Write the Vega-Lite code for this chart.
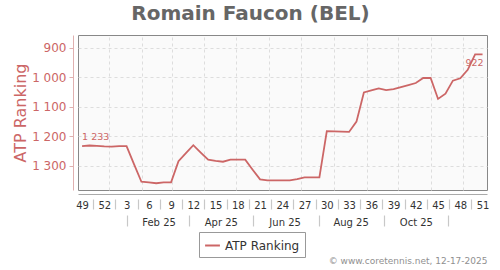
{
  "$schema": "https://vega.github.io/schema/vega-lite/v6.json",
  "width": 409,
  "height": 155,
  "autosize": {"type": "none"},
  "padding": {"left": 78, "top": 35, "right": 13, "bottom": 80},
  "background": "white",
  "config": {
    "font": "DejaVu Sans",
    "view": {"fill": "#fafafa", "stroke": "#888", "strokeWidth": 1},
    "locale": {"number": {"decimal": ".", "thousands": " ", "grouping": [3], "currency": ["", ""]}}
  },
  "title": {"text": "Romain Faucon (BEL)", "fontSize": 20, "fontWeight": "bold", "color": "#666", "anchor": "middle", "baseline": "alphabetic", "offset": 14, "dy": 19, "dx": -32},
  "data": {"values": [
    {"i": 0, "rank": 1233}, {"i": 1, "rank": 1231}, {"i": 2, "rank": 1232}, {"i": 3, "rank": 1234},
    {"i": 4, "rank": 1235}, {"i": 5, "rank": 1233}, {"i": 6, "rank": 1233}, {"i": 7, "rank": 1294},
    {"i": 8, "rank": 1354}, {"i": 9, "rank": 1356}, {"i": 10, "rank": 1359}, {"i": 11, "rank": 1356},
    {"i": 12, "rank": 1356}, {"i": 13, "rank": 1284}, {"i": 14, "rank": 1257}, {"i": 15, "rank": 1230},
    {"i": 16, "rank": 1255}, {"i": 17, "rank": 1279}, {"i": 18, "rank": 1283}, {"i": 19, "rank": 1286},
    {"i": 20, "rank": 1279}, {"i": 21, "rank": 1279}, {"i": 22, "rank": 1279}, {"i": 23, "rank": 1313},
    {"i": 24, "rank": 1346}, {"i": 25, "rank": 1349}, {"i": 26, "rank": 1349}, {"i": 27, "rank": 1349},
    {"i": 28, "rank": 1349}, {"i": 29, "rank": 1345}, {"i": 30, "rank": 1339}, {"i": 31, "rank": 1339},
    {"i": 32, "rank": 1339}, {"i": 33, "rank": 1182}, {"i": 34, "rank": 1183}, {"i": 35, "rank": 1184},
    {"i": 36, "rank": 1185}, {"i": 37, "rank": 1150}, {"i": 38, "rank": 1051}, {"i": 39, "rank": 1044},
    {"i": 40, "rank": 1037}, {"i": 41, "rank": 1043}, {"i": 42, "rank": 1040}, {"i": 43, "rank": 1033},
    {"i": 44, "rank": 1026}, {"i": 45, "rank": 1019}, {"i": 46, "rank": 1002}, {"i": 47, "rank": 1002},
    {"i": 48, "rank": 1073}, {"i": 49, "rank": 1055}, {"i": 50, "rank": 1011}, {"i": 51, "rank": 1003},
    {"i": 52, "rank": 974}, {"i": 53, "rank": 922}, {"i": 54, "rank": 922}
  ]},
  "resolve": {"axis": {"x": "independent"}},
  "layer": [
    {
      "mark": {"type": "line", "strokeWidth": 1.8},
      "encoding": {
        "x": {
          "field": "i", "type": "quantitative",
          "scale": {"domain": [-0.55, 54.6], "nice": false, "zero": false},
          "axis": {
            "orient": "bottom",
            "values": [0, 3, 6, 9, 12, 15, 18, 21, 24, 27, 30, 33, 36, 39, 42, 45, 48, 51, 54],
            "labelExpr": "datum.value < 4 ? datum.value + 49 : datum.value - 3",
            "title": null, "grid": false, "domain": false,
            "offset": 9, "tickSize": 10, "tickOffset": 11.1, "labelOffset": -11.1, "tickColor": "#c8c8c8", "tickWidth": 1.2,
            "tickOpacity": {"condition": {"test": "datum.value > 53", "value": 0}, "value": 1},
            "labelPadding": -9, "labelFontSize": 10, "labelColor": "#333",
            "labelFlush": false, "labelOverlap": false
          }
        },
        "y": {
          "field": "rank", "type": "quantitative",
          "scale": {"domain": [856, 1382], "reverse": true, "nice": false, "zero": false},
          "axis": {
            "values": [900, 1000, 1100, 1200, 1300], "tickCount": 20,
            "labelExpr": "format(datum.value, ',')", "labelOverlap": false,
            "title": "ATP Ranking", "titleFontSize": 16, "titleFontWeight": "normal", "titleColor": "#cc6666", "titlePadding": 3,
            "labelColor": "#cc6666", "labelFontSize": 12, "labelPadding": 3,
            "offset": 5, "domainColor": "#e0b0b0", "tickColor": "#e0b0b0", "tickSize": 4,
            "grid": true, "gridColor": "#dddddd", "gridDash": [3, 3]
          }
        },
        "color": {
          "datum": "ATP Ranking", "type": "nominal",
          "scale": {"range": ["#cc6666"]},
          "legend": {
            "title": null, "orient": "none", "legendX": 121, "legendY": 197,
            "direction": "horizontal", "symbolType": "stroke", "symbolStrokeWidth": 2, "symbolSize": 220,
            "labelFontSize": 12, "labelColor": "#333", "labelOffset": 4,
            "strokeColor": "#999", "fillColor": "white", "padding": 5
          }
        }
      }
    },
    {
      "transform": [{"filter": "datum.i == 0"}],
      "mark": {"type": "text", "align": "left", "baseline": "alphabetic", "dy": -6, "fontSize": 9.5, "color": "#cc6666"},
      "encoding": {
        "x": {
          "field": "i", "type": "quantitative",
          "axis": {
            "orient": "bottom",
            "values": [3.64, 8.07, 12.07, 16.5, 20.79, 25.21, 29.5, 33.93, 38.36, 42.64, 47.07, 51.36],
            "labels": false, "ticks": false, "domain": true, "domainColor": "#aaa", "offset": 4,
            "grid": true, "gridColor": "#dddddd", "gridDash": [3, 3], "title": null
          }
        },
        "y": {"field": "rank", "type": "quantitative"},
        "text": {"field": "rank", "type": "quantitative", "format": ","}
      }
    },
    {
      "transform": [{"filter": "datum.i == 54"}],
      "mark": {"type": "text", "align": "right", "baseline": "alphabetic", "dy": 12, "dx": 1, "fontSize": 9.5, "color": "#cc6666"},
      "encoding": {
        "x": {
          "field": "i", "type": "quantitative",
          "axis": {
            "orient": "bottom",
            "values": [10.31, 18.71, 27.31, 36.21, 45.01, 53.71],
            "labelExpr": "datum.value < 12 ? 'Feb 25' : datum.value < 20 ? 'Apr 25' : datum.value < 30 ? 'Jun 25' : datum.value < 40 ? 'Aug 25' : datum.value < 50 ? 'Oct 25' : ''",
            "grid": false, "domain": false,
            "offset": 25, "tickSize": 11, "tickOffset": -32, "labelOffset": 32, "tickColor": "#c8c8c8", "tickWidth": 1.2,
            "labelPadding": -9, "labelFontSize": 10, "labelColor": "#333",
            "labelFlush": false, "labelOverlap": false,
            "title": "© www.coretennis.net, 12-17-2025", "titleAnchor": "end", "titleFontSize": 9,
            "titleFontWeight": "normal", "titleColor": "#909090", "titlePadding": 29
          }
        },
        "y": {"field": "rank", "type": "quantitative"},
        "text": {"field": "rank", "type": "quantitative", "format": ","}
      }
    }
  ]
}
